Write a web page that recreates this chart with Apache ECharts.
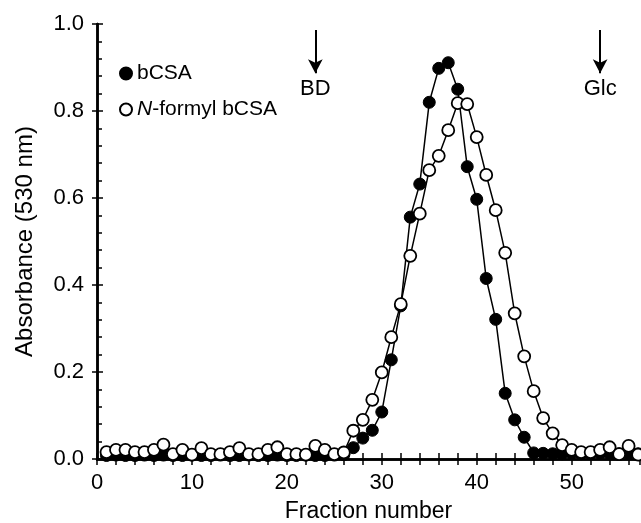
<!DOCTYPE html>
<html>
<head>
<meta charset="utf-8">
<script src="https://cdn.jsdelivr.net/npm/echarts@6/dist/echarts.min.js"></script>
<style>
  html, body { margin: 0; padding: 0; background: #fff; }
  #chart { width: 641px; height: 523px; }
</style>
</head>
<body>
<div id="chart"></div>
<script>
// 组分编号
const fractions = [1, 2, 3, 4, 5, 6, 7, 8, 9, 10, 11, 12, 13, 14, 15, 16, 17, 18, 19, 20,
  21, 22, 23, 24, 25, 26, 27, 28, 29, 30, 31, 32, 33, 34, 35, 36, 37, 38, 39, 40,
  41, 42, 43, 44, 45, 46, 47, 48, 49, 50, 51, 52, 53, 54, 55, 56, 57]

// bCSA (实心点)
const bcsaValues = [0.008, 0.009, 0.008, 0.008, 0.009, 0.008, 0.009, 0.008, 0.008, 0.009,
  0.008, 0.008, 0.009, 0.008, 0.008, 0.009, 0.008, 0.008, 0.009, 0.008,
  0.008, 0.009, 0.008, 0.008, 0.009, 0.010, 0.026, 0.048, 0.066, 0.108,
  0.228, 0.352, 0.556, 0.632, 0.820, 0.898, 0.911, 0.850, 0.672, 0.597,
  0.415, 0.321, 0.151, 0.090, 0.050, 0.014, 0.013, 0.012, 0.012, 0.013,
  0.012, 0.012, 0.013, 0.012, 0.012, 0.013, 0.012]

// N-formyl bCSA (空心点)
const formylValues = [0.016, 0.021, 0.021, 0.016, 0.016, 0.021, 0.033, 0.011, 0.021, 0.010,
  0.025, 0.011, 0.011, 0.016, 0.025, 0.011, 0.011, 0.021, 0.027, 0.011,
  0.011, 0.010, 0.030, 0.021, 0.011, 0.015, 0.065, 0.090, 0.136, 0.199,
  0.280, 0.356, 0.467, 0.564, 0.664, 0.697, 0.756, 0.818, 0.816, 0.740,
  0.653, 0.572, 0.474, 0.335, 0.236, 0.156, 0.094, 0.059, 0.032, 0.021,
  0.016, 0.016, 0.021, 0.027, 0.011, 0.030, 0.010]

// 标记箭头: BD 和 Glc
const markerNames = ['BD', 'Glc']
const markerFractions = [23, 53]
const arrowTop = 0.986
const arrowTip = 0.887

const FONT = 'Liberation Sans, Arial, Helvetica, sans-serif'
const xMax = 57.2

const toPairs = (vals) => fractions.map((f, i) => [f, vals[i]])

const chart = echarts.init(document.getElementById('chart'))

const tickStyle = { color: '#000', width: 1.5 }
const axisLineStyle = { color: '#000', width: 2.5 }

const option = {
  animation: false,
  backgroundColor: '#fff',
  textStyle: { fontFamily: FONT, color: '#000' },
  grid: { left: 97, top: 24, width: 543, height: 435, outerBoundsMode: 'none' },
  legend: {
    orient: 'vertical',
    left: 114,
    top: 58,
    itemWidth: 12,
    itemHeight: 12,
    itemGap: 15,
    icon: 'circle',
    textStyle: {
      fontFamily: FONT,
      fontSize: 21,
      color: '#000',
      rich: { i: { fontStyle: 'italic', fontSize: 21, fontFamily: FONT, color: '#000' } }
    },
    formatter: (name) => name === 'N-formyl bCSA' ? '{i|N}-formyl bCSA' : name,
    data: ['bCSA', 'N-formyl bCSA']
  },
  xAxis: [
    {
      type: 'value',
      position: 'bottom',
      min: 0,
      max: xMax,
      interval: 2,
      name: 'Fraction number',
      nameLocation: 'middle',
      nameGap: 41,
      nameTextStyle: { fontFamily: FONT, fontSize: 23, color: '#000' },
      axisLine: { lineStyle: axisLineStyle },
      axisTick: { inside: true, length: 6, lineStyle: tickStyle },
      axisLabel: {
        fontFamily: FONT, fontSize: 22, color: '#000', margin: 13,
        showMaxLabel: false,
        formatter: (v) => (v % 10 === 0 ? String(v) : '')
      },
      splitLine: { show: false }
    },
    {
      type: 'value',
      position: 'top',
      min: 0,
      max: xMax,
      interval: 2,
      axisLine: { lineStyle: axisLineStyle },
      axisTick: { inside: true, length: 6, lineStyle: tickStyle },
      axisLabel: { show: false },
      splitLine: { show: false }
    }
  ],
  yAxis: [
    {
      type: 'value',
      position: 'left',
      min: 0,
      max: 1,
      interval: 0.2,
      name: 'Absorbance (530 nm)',
      nameLocation: 'middle',
      nameGap: 60,
      nameTextStyle: { fontFamily: FONT, fontSize: 24, color: '#000' },
      axisLine: { show: true, lineStyle: axisLineStyle },
      axisTick: { show: true, inside: true, length: 6, lineStyle: tickStyle },
      minorTick: { show: true, splitNumber: 5, length: 5, lineStyle: tickStyle },
      axisLabel: {
        fontFamily: FONT, fontSize: 22, color: '#000', margin: 13,
        formatter: (v) => v.toFixed(1)
      },
      splitLine: { show: false }
    },
    {
      type: 'value',
      position: 'right',
      min: 0,
      max: 1,
      interval: 0.2,
      axisLine: { show: true, lineStyle: axisLineStyle },
      axisTick: { show: true, inside: true, length: 5, lineStyle: tickStyle },
      axisLabel: { show: false },
      splitLine: { show: false }
    }
  ],
  series: [
    {
      name: 'bCSA',
      type: 'line',
      data: toPairs(bcsaValues),
      symbol: 'circle',
      symbolSize: 12,
      itemStyle: { color: '#000', borderColor: '#000', borderWidth: 1 },
      lineStyle: { color: '#000', width: 1.5 },
      z: 2,
      markLine: {
        silent: true,
        symbol: ['none', 'arrow'],
        symbolSize: [11, 14],
        lineStyle: { color: '#000', width: 2, type: 'solid' },
        label: {
          show: true,
          position: 'end',
          distance: 5,
          formatter: '{b}',
          fontFamily: FONT,
          fontSize: 22,
          color: '#000'
        },
        data: markerNames.map((n, i) => [
          { name: n, coord: [markerFractions[i], arrowTop] },
          { coord: [markerFractions[i], arrowTip] }
        ])
      }
    },
    {
      name: 'N-formyl bCSA',
      type: 'line',
      data: toPairs(formylValues),
      symbol: 'circle',
      symbolSize: 12,
      itemStyle: { color: '#fff', borderColor: '#000', borderWidth: 1.8 },
      lineStyle: { color: '#000', width: 1.5 },
      z: 3
    }
  ]
}

chart.setOption(option)
</script>
</body>
</html>
